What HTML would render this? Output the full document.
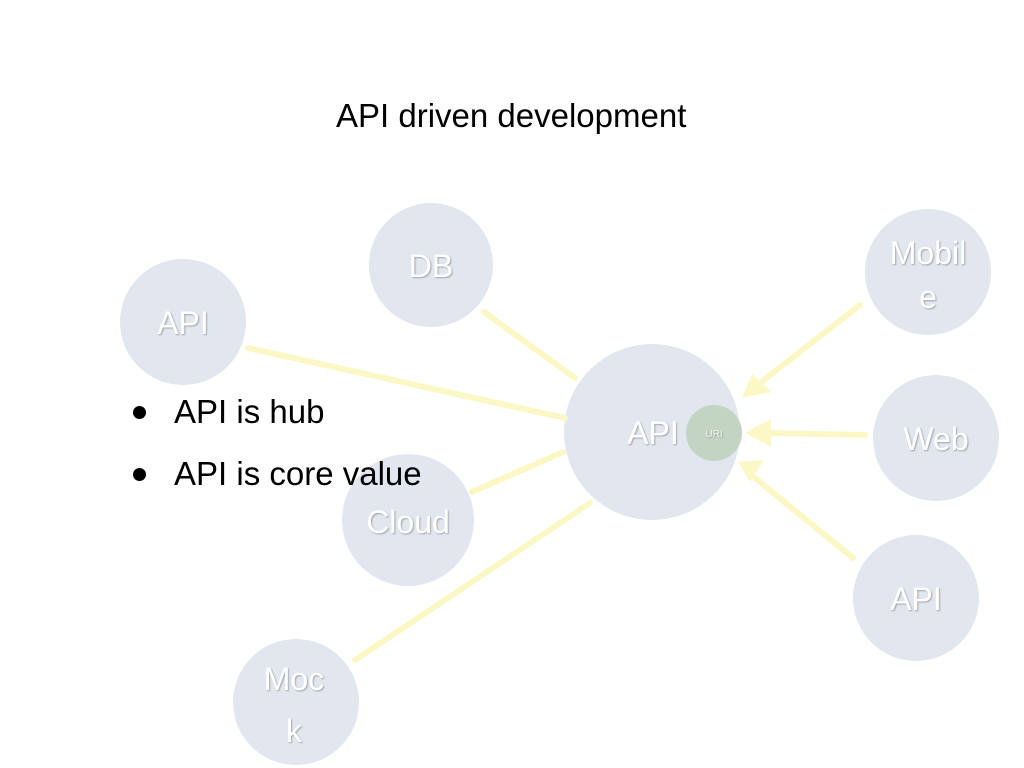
<!DOCTYPE html>
<html><head><style>
body{margin:0;background:#fff;width:1024px;height:768px;overflow:hidden;font-family:"Liberation Sans",sans-serif}
svg{position:absolute;left:0;top:0}
.t{position:absolute;font-size:33px;color:#000;white-space:nowrap}
.b{position:absolute;width:13px;height:13px;border-radius:50%;background:#000}
</style></head><body>
<svg width="1024" height="768">
<defs><filter id="s"><feDropShadow dx="1" dy="1" stdDeviation="0.8" flood-color="#888" flood-opacity="0.7"/></filter></defs>
<g fill="#e1e6ef">
<circle cx="183" cy="322" r="63"/>
<circle cx="431" cy="265" r="62"/>
<circle cx="928" cy="272" r="63"/>
<circle cx="936" cy="438" r="63"/>
<circle cx="408" cy="520" r="66"/>
<circle cx="916" cy="598" r="63"/>
<circle cx="296" cy="702" r="63"/>
<circle cx="652" cy="432" r="88"/>
</g>
<circle cx="714" cy="433" r="28" fill="#c4d4c2"/>
<g stroke="#fbf8c6" stroke-width="6" fill="none" stroke-linecap="round">
<line x1="248" y1="348" x2="565" y2="418"/>
<line x1="484" y1="312" x2="575" y2="378"/>
<line x1="472" y1="492" x2="563" y2="452"/>
<line x1="355" y1="660" x2="590" y2="503"/>
<line x1="860" y1="305" x2="760" y2="383"/>
<line x1="865" y1="435" x2="765" y2="433"/>
<line x1="853" y1="558" x2="755" y2="478"/>
</g>
<g fill="#fbf8c6">
<polygon points="742,398 752,374 772,392"/>
<polygon points="745,433 771,419 771,447"/>
<polygon points="738,462 764,460 750,482"/>
</g>
<g fill="#fff" font-family="Liberation Sans,sans-serif" font-size="32" text-anchor="middle" filter="url(#s)">
<text x="183" y="334">API</text>
<text x="431" y="277">DB</text>
<text x="928" y="264">Mobil</text>
<text x="928" y="308">e</text>
<text x="936" y="450">Web</text>
<text x="408" y="533">Cloud</text>
<text x="916" y="610">API</text>
<text x="294" y="690">Moc</text>
<text x="294" y="742">k</text>
<text x="653" y="444">API</text>
<text x="714" y="437" font-size="10" fill="#eef2ee">URI</text>
</g>
</svg>
<div class="t" style="left:336px;top:97px">API driven development</div>
<div class="b" style="left:133px;top:406px"></div>
<div class="b" style="left:133px;top:468px"></div>
<div class="t" style="left:174px;top:393px">API is hub</div>
<div class="t" style="left:174px;top:455px">API is core value</div>
</body></html>
